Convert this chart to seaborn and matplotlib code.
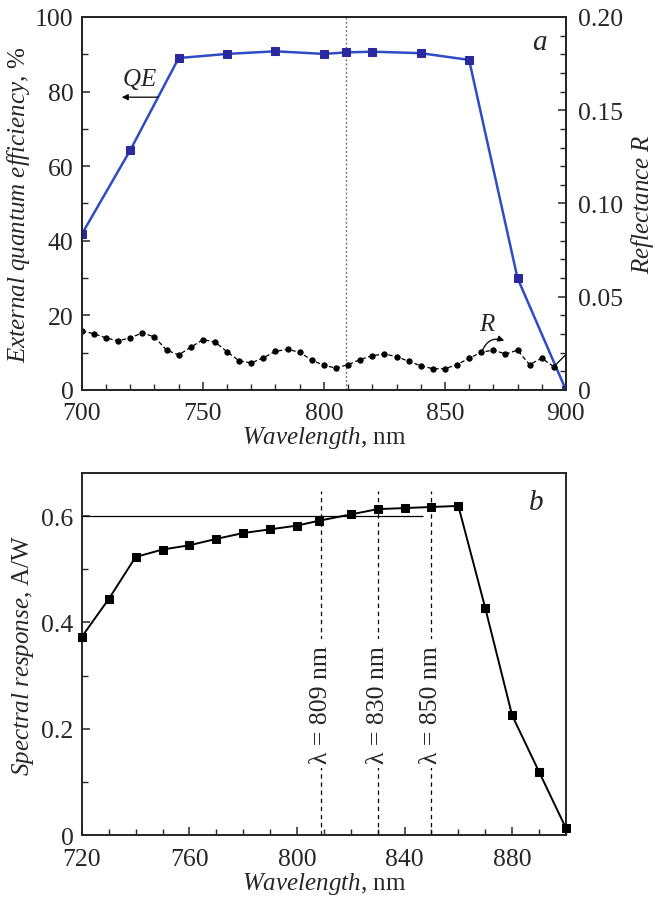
import numpy as np
import pandas as pd
import matplotlib
matplotlib.use("Agg")
import matplotlib.pyplot as plt
from matplotlib.ticker import MultipleLocator
import seaborn as sns

# ---------------- data ----------------
qe_wl = [700, 720, 740, 760, 780, 800, 809, 820, 840, 860, 880, 900]
qe_val = [41.8, 64.3, 89.0, 90.1, 90.8, 90.1, 90.5, 90.7, 90.3, 88.5, 30.0, 0.0]

r_wl = [700, 705, 710, 715, 720, 725, 730, 735, 740, 745, 750, 755, 760, 765,
        770, 775, 780, 785, 790, 795, 800, 805, 810, 815, 820, 825, 830, 835,
        840, 845, 850, 855, 860, 865, 870, 875, 880, 885, 890, 895]
r_val = [0.0315, 0.0302, 0.0279, 0.0263, 0.0280, 0.0306, 0.0284, 0.0214, 0.0188,
         0.0229, 0.0270, 0.0257, 0.0205, 0.0156, 0.0145, 0.0173, 0.0207, 0.0218,
         0.0202, 0.0160, 0.0132, 0.0118, 0.0136, 0.0163, 0.0184, 0.0193, 0.0179,
         0.0154, 0.0130, 0.0114, 0.0114, 0.0136, 0.0170, 0.0202, 0.0214, 0.0193,
         0.0213, 0.0136, 0.0170, 0.0125]

sr_wl = [720, 730, 740, 750, 760, 770, 780, 790, 800, 808, 820, 830, 840, 850,
         860, 870, 880, 890, 900]
sr_val = [0.373, 0.444, 0.523, 0.537, 0.545, 0.557, 0.568, 0.575, 0.582, 0.591,
          0.603, 0.613, 0.615, 0.617, 0.619, 0.427, 0.225, 0.119, 0.013]

marked_wl = [809, 830, 850]
marked_labels = ["λ = 809 nm", "λ = 830 nm", "λ = 850 nm"]

# ---------------- style ----------------
sns.set_style("ticks")
plt.rcParams["font.family"] = ["Liberation Serif", "DejaVu Serif"]
plt.rcParams["mathtext.fontset"] = "custom"
plt.rcParams["mathtext.rm"] = "Liberation Serif"
plt.rcParams["mathtext.it"] = "Liberation Serif:italic"
plt.rcParams["axes.linewidth"] = 1.4
plt.rcParams["xtick.direction"] = "in"
plt.rcParams["ytick.direction"] = "in"

FS = 18.5
LFS = 18
blue = "#2f4cc4"
mblue = "#2a2a9e"

fig = plt.figure(figsize=(6.55, 9.04), dpi=100)
ax1 = fig.add_axes([0.125, 0.5675, 0.739, 0.4126])
ax3 = fig.add_axes([0.125, 0.0752, 0.739, 0.4005])

# ---------------- panel a ----------------
ax1.axvline(809, color="#777777", ls=(0, (1.5, 1.5)), lw=1.0, zorder=1)
df_qe = pd.DataFrame({"wl": qe_wl, "qe": qe_val})
sns.lineplot(data=df_qe, x="wl", y="qe", ax=ax1, color=blue, lw=1.8,
             marker="s", markersize=5.5, markerfacecolor=mblue,
             markeredgecolor=mblue, zorder=3)
ax1.set_xlim(700, 900)
ax1.set_ylim(0, 100)
ax1.xaxis.set_major_locator(MultipleLocator(50))
ax1.xaxis.set_minor_locator(MultipleLocator(10))
ax1.yaxis.set_major_locator(MultipleLocator(20))
ax1.yaxis.set_minor_locator(MultipleLocator(10))
ax1.set_xlabel(r"$Wavelength$, nm", fontsize=LFS, labelpad=0)
ax1.set_ylabel(r"$External\ quantum\ efficiency$, %", fontsize=LFS, labelpad=2)

ax2 = ax1.twinx()
df_r = pd.DataFrame({"wl": r_wl, "r": r_val})
sns.lineplot(data=df_r, x="wl", y="r", ax=ax2, color="black", lw=0.9,
             linestyle=(0, (3.5, 2)), marker="o", markersize=3.8,
             markeredgecolor="black", markerfacecolor="black", zorder=2)
ax2.plot([r_wl[-1], 900], [r_val[-1], 0.019], color="black", lw=0.9)
ax2.set_ylim(0, 0.2)
ax2.yaxis.set_major_locator(MultipleLocator(0.05))
ax2.yaxis.set_minor_locator(MultipleLocator(0.01))
ax2.set_yticks([0, 0.05, 0.10, 0.15, 0.20])
ax2.set_yticklabels(["0", "0.05", "0.10", "0.15", "0.20"])
ax2.set_ylabel(r"$Reflectance\ R$", fontsize=LFS, labelpad=4)
ax2.set_xlabel("")

for ax in (ax1, ax2, ax3):
    ax.tick_params(which="major", length=6, width=1.1, labelsize=FS)
    ax.tick_params(which="minor", length=4.5, width=1.0)
    ax.tick_params(axis="x", pad=9)
    ax.tick_params(axis="y", pad=6)
ax2.tick_params(axis="y", pad=9)
ax1.tick_params(axis="y", right=False)

ax1.text(724, 83.5, r"$QE$", fontsize=LFS, ha="center", va="center")
ax1.annotate("", xy=(716.5, 78.5), xytext=(731.5, 78.5),
             arrowprops=dict(arrowstyle="-|>", lw=0.9, color="black",
                             mutation_scale=9, shrinkA=0, shrinkB=0))
ax2.text(867.5, 0.0355, r"$R$", fontsize=LFS, ha="center", va="center")
ax2.annotate("", xy=(874.5, 0.0265), xytext=(865.5, 0.0212),
             arrowprops=dict(arrowstyle="-|>", lw=0.9, color="black",
                             mutation_scale=9, shrinkA=0, shrinkB=0,
                             connectionstyle="arc3,rad=-0.45"))
ax1.text(889, 93.3, r"$a$", fontsize=21, ha="center", va="center")

# ---------------- panel b ----------------
df_sr = pd.DataFrame({"wl": sr_wl, "sr": sr_val})
ax3.hlines(0.6, 720, 847, color="black", lw=0.9, zorder=1)
for wl, lab in zip(marked_wl, marked_labels):
    ax3.vlines(wl, 0, 0.648, color="black", lw=0.9, linestyles=(0, (3.5, 3)),
               zorder=1)
    ax3.text(wl, 0.247, lab, rotation=90, fontsize=FS, ha="center",
             va="center", zorder=2,
             bbox=dict(facecolor="white", edgecolor="none", pad=4))
sns.lineplot(data=df_sr, x="wl", y="sr", ax=ax3, color="black", lw=1.4,
             marker="s", markersize=6, markerfacecolor="black",
             markeredgecolor="black", zorder=3, clip_on=False)
ax3.set_xlim(720, 900)
ax3.set_ylim(0, 0.681)
ax3.xaxis.set_major_locator(MultipleLocator(40))
ax3.xaxis.set_minor_locator(MultipleLocator(10))
ax3.yaxis.set_major_locator(MultipleLocator(0.2))
ax3.yaxis.set_minor_locator(MultipleLocator(0.1))
ax3.set_yticks([0, 0.2, 0.4, 0.6])
ax3.set_yticklabels(["0", "0.2", "0.4", "0.6"])
ax3.set_xlabel(r"$Wavelength$, nm", fontsize=LFS, labelpad=0)
ax3.set_ylabel(r"$Spectral\ response$, A/W", fontsize=LFS, labelpad=4)
ax3.text(889, 0.626, r"$b$", fontsize=21, ha="center", va="center")

fig.savefig("out.png", dpi=100)
